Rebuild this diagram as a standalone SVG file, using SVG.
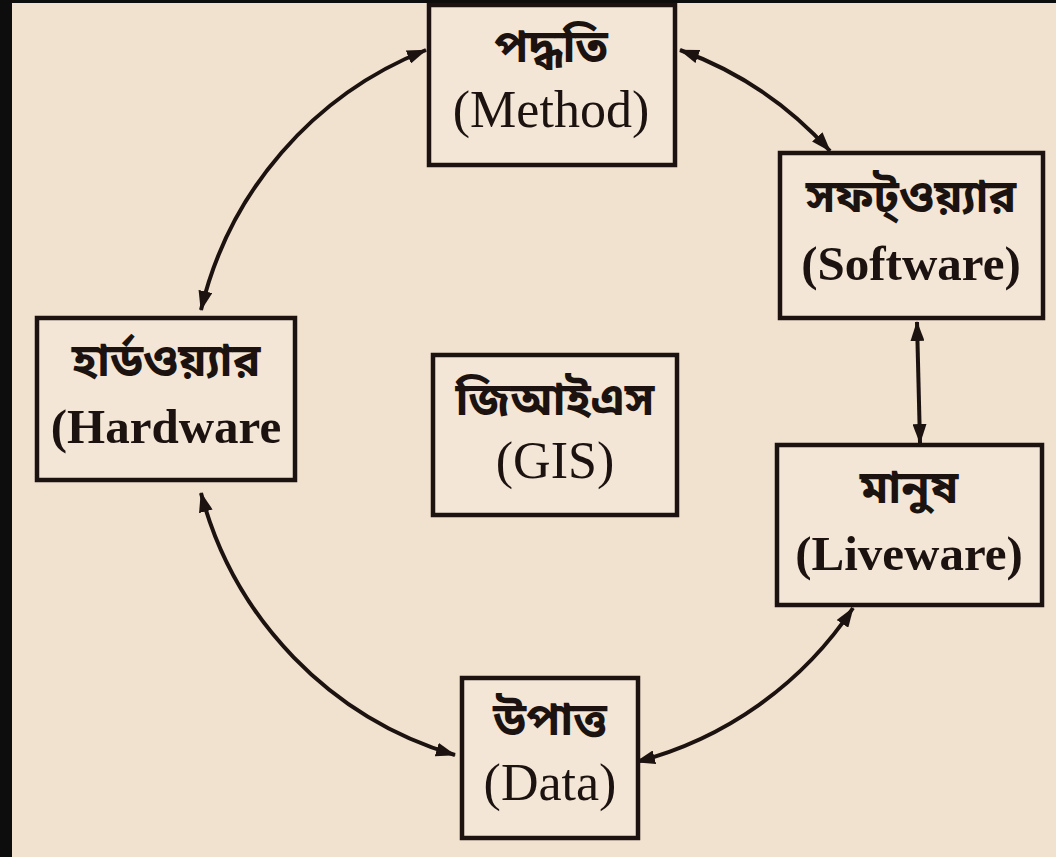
<svg xmlns="http://www.w3.org/2000/svg" width="1056" height="857" viewBox="0 0 1056 857">
<defs>
<style>
.bg{fill:#f1e1cf}
.box{fill:#f3e6d6;stroke:#1c1310;stroke-width:4.5}
.en{font-family:"Liberation Serif","Times New Roman",serif;font-size:52px;fill:#1c1310;text-anchor:middle}
.enb{font-family:"Liberation Serif","Times New Roman",serif;font-size:49px;font-weight:bold;fill:#1c1310;text-anchor:middle}
.bn{font-family:"Noto Sans Bengali","Noto Serif Bengali","Lohit Bengali","FreeSerif","Noto Sans",sans-serif;font-size:46px;font-weight:bold;fill:#1c1310;text-anchor:middle}
.conn{fill:none;stroke:#1c1310;stroke-width:4}
</style>
<marker id="ah" viewBox="0 0 20 14" refX="19" refY="7" markerWidth="20" markerHeight="14" markerUnits="userSpaceOnUse" orient="auto-start-reverse">
<path d="M0,0 L20,7 L0,14 Z" fill="#1c1310"/>
</marker>
</defs>
<rect class="bg" x="0" y="0" width="1056" height="857"/>
<rect x="0" y="0" width="12" height="857" fill="#0d0d0d"/>
<rect x="0" y="0" width="1056" height="3" fill="#0d0d0d"/>

<g id="connectors">
<path class="conn" d="M201,310 A372 372 0 0 1 426,50" marker-start="url(#ah)" marker-end="url(#ah)"/>
<path class="conn" d="M680,50 A372 372 0 0 1 830,151" marker-start="url(#ah)" marker-end="url(#ah)"/>
<path class="conn" d="M917,322 L920,443" marker-start="url(#ah)" marker-end="url(#ah)"/>
<path class="conn" d="M853,608 A372 372 0 0 1 636,762" marker-start="url(#ah)" marker-end="url(#ah)"/>
<path class="conn" d="M455,755 A372 372 0 0 1 201,493" marker-start="url(#ah)" marker-end="url(#ah)"/>
</g>

<g id="method">
<rect class="box" x="429" y="5" width="246" height="160"/>
<text class="bn" x="551" y="62">পদ্ধতি</text>
<text class="en" x="551" y="127">(Method)</text>
</g>

<g id="software">
<rect class="box" x="780" y="153" width="263" height="165"/>
<text class="bn" x="911" y="212">সফট্ওয়্যার</text>
<text class="enb" x="911" y="280">(Software)</text>
</g>

<g id="hardware">
<rect class="box" x="37" y="318" width="258" height="162"/>
<text class="bn" x="166" y="376">হার্ডওয়্যার</text>
<text class="enb" x="166" y="443">(Hardware</text>
</g>

<g id="gis">
<rect class="box" x="433" y="355" width="244" height="160"/>
<text class="bn" x="555" y="415">জিআইএস</text>
<text class="en" x="555" y="478">(GIS)</text>
</g>

<g id="liveware">
<rect class="box" x="777" y="445" width="265" height="160"/>
<text class="bn" x="909" y="503">মানুষ</text>
<text class="enb" x="909" y="570">(Liveware)</text>
</g>

<g id="data">
<rect class="box" x="462" y="678" width="176" height="160"/>
<text class="bn" x="550" y="735">উপাত্ত</text>
<text class="en" x="550" y="800">(Data)</text>
</g>
</svg>
